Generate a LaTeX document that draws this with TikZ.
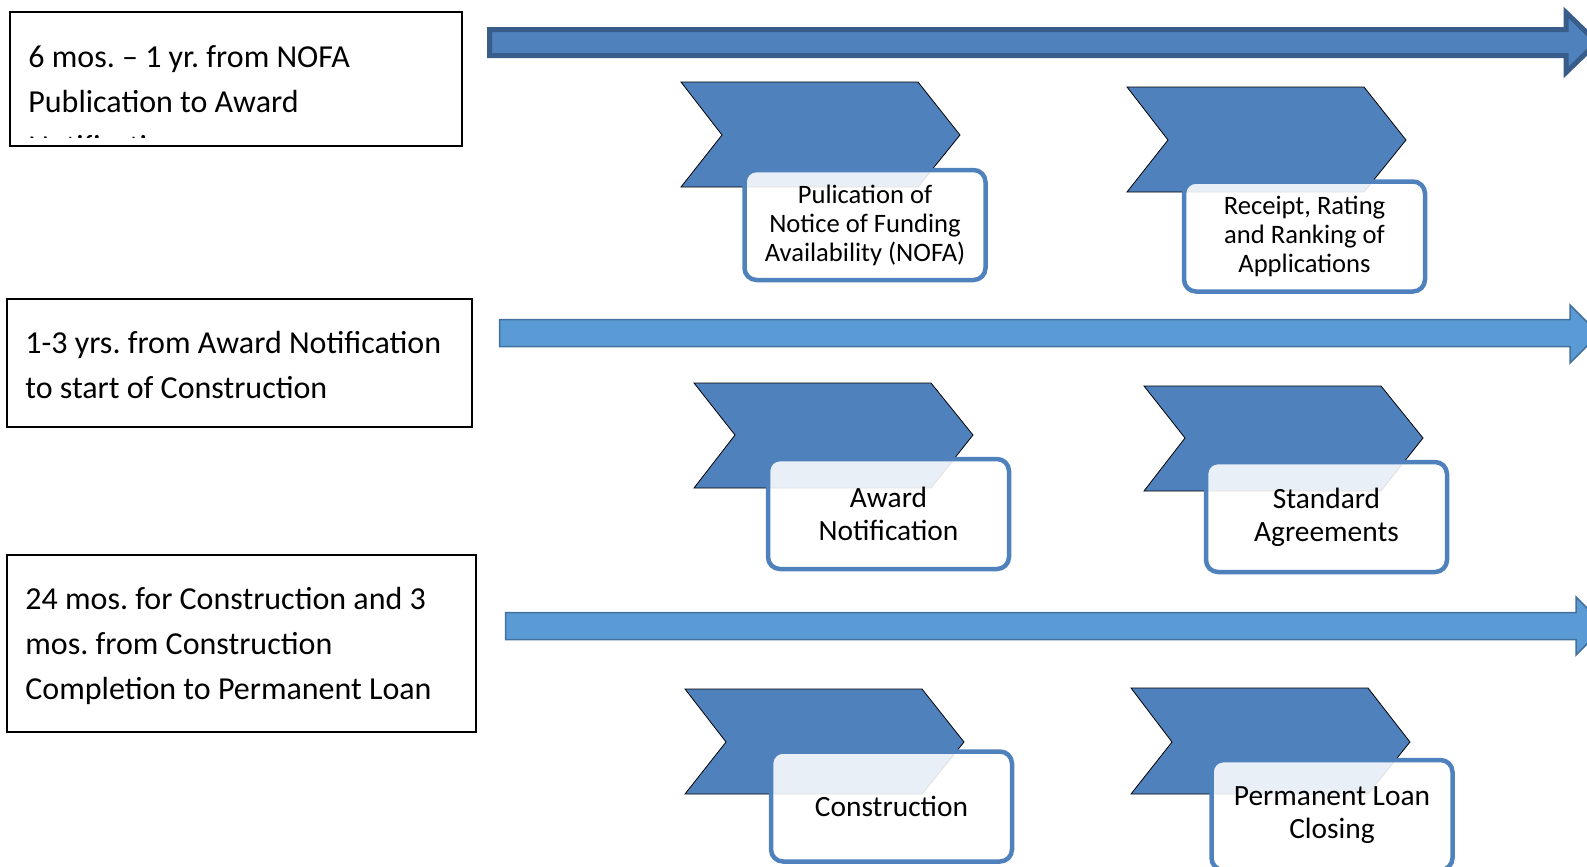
\documentclass[tikz,border=0pt]{standalone}
\usepackage{fontspec}
\setmainfont{Carlito}
\frenchspacing

\definecolor{chevblue}{HTML}{4F81BD}
\definecolor{chevdark}{HTML}{385D8A}
\definecolor{lineblue}{HTML}{5B9BD5}
\definecolor{linedark}{HTML}{41719C}

\tikzset{
  phasebox/.style={draw=black,line width=1pt,inner sep=0pt,anchor=north west},
  phasetext/.style={anchor=base west,align=left,inner sep=0pt,
    font=\fontsize{16}{22.5}\selectfont},
  chevron/.style={fill=chevblue},
  stepbox/.style={draw=chevblue,line width=2.25pt,rounded corners=6pt,
    fill=white,fill opacity=0.88,text opacity=1,
    minimum width=120.5pt,minimum height=55pt,align=center,inner sep=0pt},
  smallstep/.style={font=\fontsize{13.3}{14.5}\selectfont},
  largestep/.style={font=\fontsize{14.7}{16.5}\selectfont},
  timeline/.style={fill=chevblue,draw=chevdark,line width=2.5pt,line join=miter},
  thinline/.style={fill=lineblue,draw=linedark,line width=0.75pt,line join=miter}
}

\begin{document}
\begin{tikzpicture}[x=0.5pt,y=-0.5pt]
  \useasboundingbox (0,0) rectangle (1587,867);
  \clip (0,0) rectangle (1587,867);
  % first phase
  \node [phasebox,minimum width=226pt,minimum height=67pt]
    (phase1) at (9,11) {}
  ;
  \begin{scope}
    \clip (10,12) rectangle (460,137);
    \node [phasetext]
      (phase1text) at (28,157)
      {6 mos. -- 1 yr. from NOFA\\Publication to Award\\Notification}
    ;
  \end{scope}
  \draw [timeline]
    (489.5,29.5)
    -- (1566,29.5)
    -- (1566,12.5)
    -- (1597,42.5)
    -- (1566,72.5)
    -- (1566,55.5)
    -- (489.5,55.5)
    -- cycle
  ;
  \draw [chevron]
    (681,82) -- ++(237,0) -- ++(42,53) -- ++(-42,52)
    -- ++(-237,0) -- ++(41,-52) -- cycle
  ;
  \node [stepbox,smallstep]
    (nofa) at (865,225)
    {Pulication of\\Notice of Funding\\Availability (NOFA)}
  ;
  \draw [chevron]
    (1127,87) -- ++(237,0) -- ++(42,53) -- ++(-42,52)
    -- ++(-237,0) -- ++(41,-52) -- cycle
  ;
  \node [stepbox,smallstep]
    (receipt) at (1304.5,236.5)
    {Receipt, Rating\\and Ranking of\\Applications}
  ;
  % second phase
  \node [phasebox,minimum width=232.5pt,minimum height=64pt]
    (phase2) at (6,298) {}
  ;
  \node [phasetext]
    (phase2text) at (25,398)
    {1-3 yrs. from Award Notification\\to start of Construction}
  ;
  \draw [thinline]
    (499.5,319.5)
    -- (1570,319.5)
    -- (1570,305)
    -- (1599,334)
    -- (1570,363)
    -- (1570,346.5)
    -- (499.5,346.5)
    -- cycle
  ;
  \draw [chevron]
    (694,383) -- ++(237,0) -- ++(42,52) -- ++(-42,53)
    -- ++(-237,0) -- ++(41,-53) -- cycle
  ;
  \node [stepbox,largestep]
    (award) at (888.5,514)
    {Award\\Notification}
  ;
  \draw [chevron]
    (1144,386) -- ++(237,0) -- ++(42,52) -- ++(-42,53)
    -- ++(-237,0) -- ++(41,-53) -- cycle
  ;
  \node [stepbox,largestep]
    (standard) at (1326.5,517)
    {Standard\\Agreements}
  ;
  % third phase
  \node [phasebox,minimum width=234.5pt,minimum height=88.5pt]
    (phase3) at (6,554) {}
  ;
  \node [phasetext]
    (phase3text) at (25,699)
    {24 mos. for Construction and 3\\mos. from Construction\\Completion to Permanent Loan}
  ;
  \draw [thinline]
    (505.5,612.5)
    -- (1576,612.5)
    -- (1576,597)
    -- (1605,626)
    -- (1576,655)
    -- (1576,639.5)
    -- (505.5,639.5)
    -- cycle
  ;
  \draw [chevron]
    (685,689) -- ++(237,0) -- ++(42,53) -- ++(-42,52)
    -- ++(-237,0) -- ++(41,-52) -- cycle
  ;
  \node [stepbox,largestep]
    (construction) at (891.5,806.5)
    {Construction}
  ;
  \draw [chevron]
    (1131,688) -- ++(237,0) -- ++(42,54) -- ++(-42,52)
    -- ++(-237,0) -- ++(41,-52) -- cycle
  ;
  \node [stepbox,largestep]
    (permloan) at (1332,815)
    {Permanent Loan\\Closing}
  ;
\end{tikzpicture}
\end{document}
